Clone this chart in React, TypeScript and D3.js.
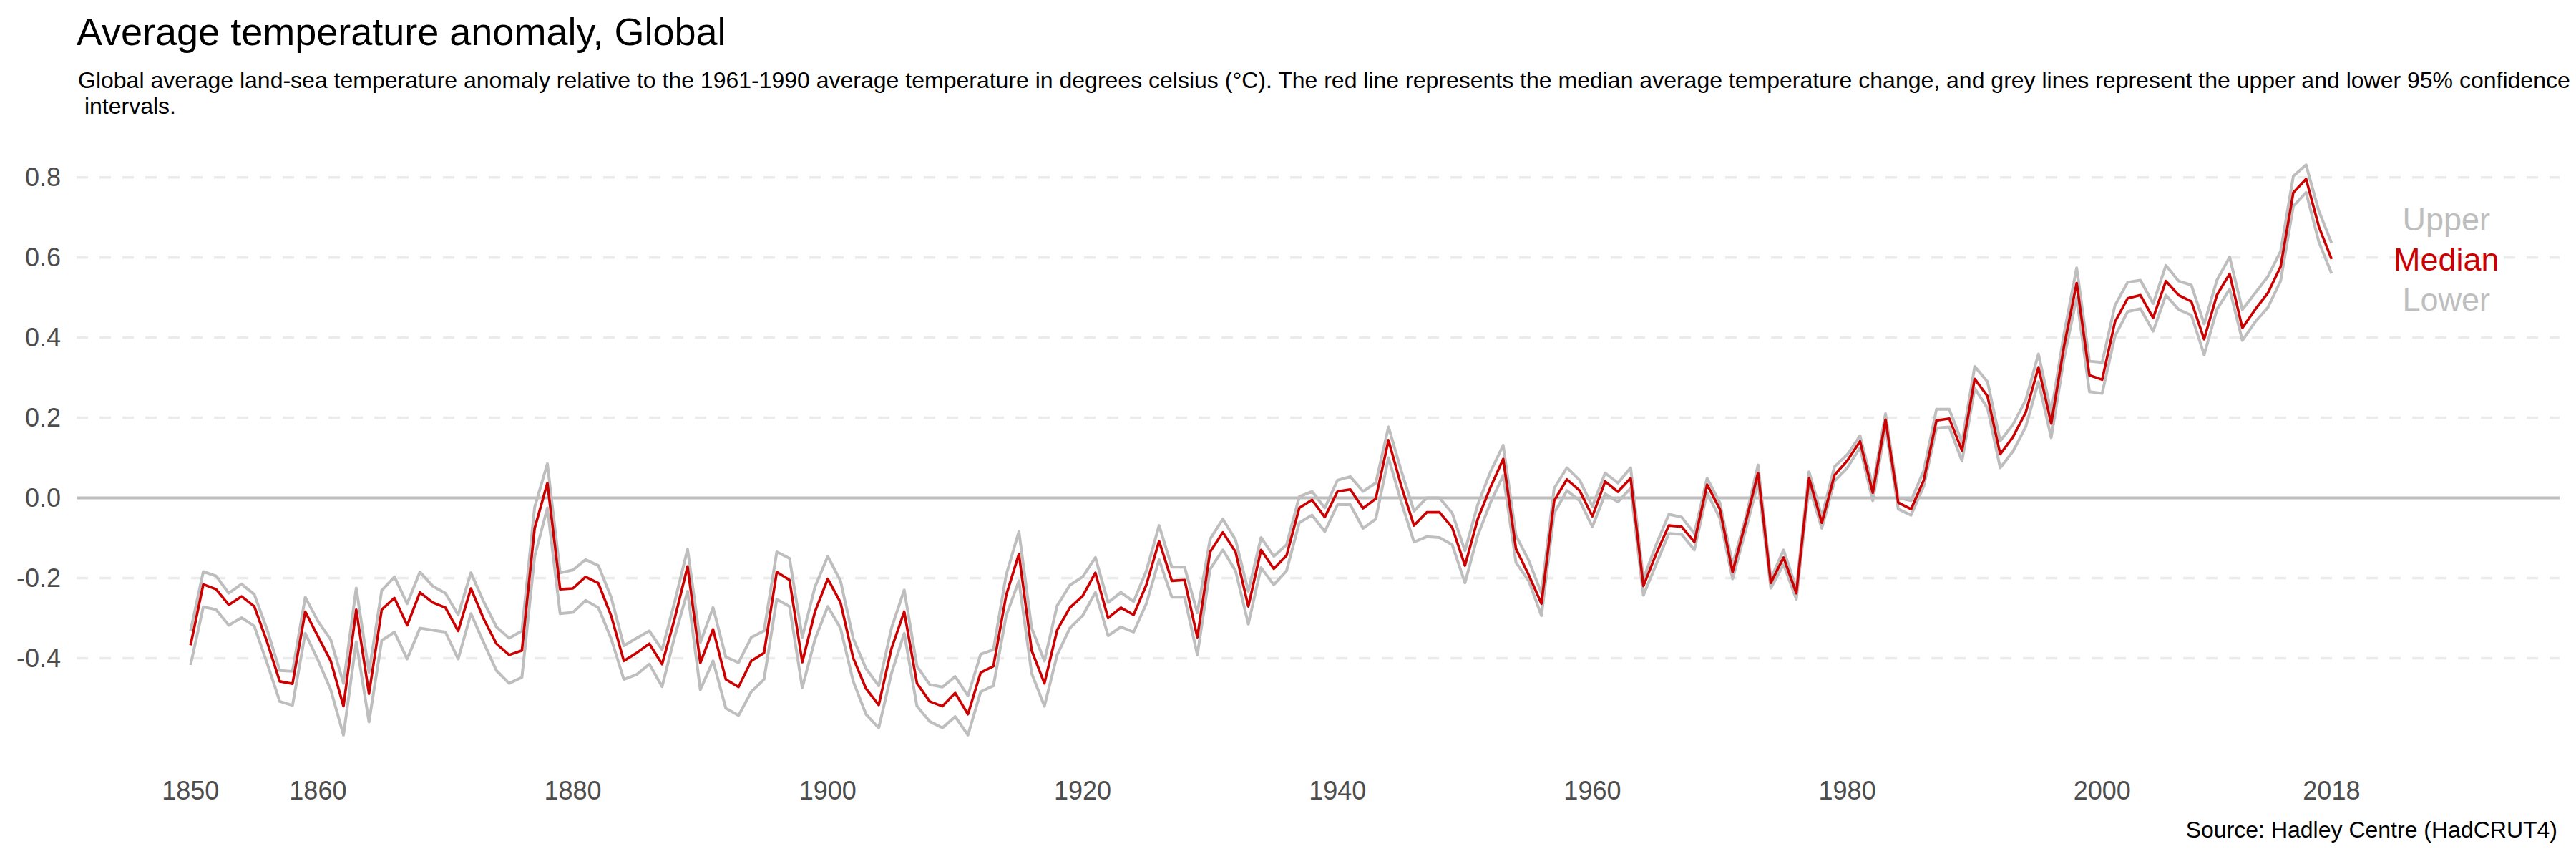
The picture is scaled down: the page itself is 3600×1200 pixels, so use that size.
import React from "react";
import * as d3 from "d3";

// ---- Data (HadCRUT4 global annual anomaly) ----
const startYear = 1850;
const endYear = 2018;

const median: number[] = [
  -0.368, -0.216, -0.228, -0.267, -0.246, -0.271, -0.359, -0.458, -0.464, -0.284,
  -0.346, -0.407, -0.520, -0.279, -0.489, -0.279, -0.250, -0.318, -0.236, -0.261,
  -0.274, -0.332, -0.226, -0.302, -0.364, -0.392, -0.381, -0.076, 0.037, -0.228,
  -0.226, -0.197, -0.213, -0.294, -0.407, -0.387, -0.364, -0.415, -0.300, -0.171,
  -0.412, -0.328, -0.453, -0.472, -0.407, -0.387, -0.185, -0.205, -0.410, -0.284,
  -0.202, -0.261, -0.400, -0.476, -0.517, -0.376, -0.284, -0.463, -0.508, -0.520,
  -0.487, -0.540, -0.436, -0.420, -0.243, -0.140, -0.381, -0.463, -0.330, -0.274,
  -0.245, -0.187, -0.300, -0.274, -0.292, -0.217, -0.108, -0.207, -0.205, -0.348,
  -0.135, -0.086, -0.135, -0.271, -0.130, -0.177, -0.144, -0.025, -0.005, -0.048,
  0.016, 0.021, -0.026, -0.002, 0.144, 0.030, -0.069, -0.036, -0.036, -0.074,
  -0.169, -0.053, 0.026, 0.097, -0.127, -0.192, -0.264, -0.007, 0.046, 0.018,
  -0.046, 0.041, 0.015, 0.049, -0.220, -0.140, -0.069, -0.072, -0.110, 0.033,
  -0.028, -0.185, -0.064, 0.062, -0.212, -0.149, -0.238, 0.049, -0.062, 0.057,
  0.093, 0.141, 0.013, 0.195, -0.012, -0.028, 0.044, 0.193, 0.198, 0.118,
  0.297, 0.254, 0.109, 0.152, 0.213, 0.326, 0.185, 0.377, 0.536, 0.306,
  0.295, 0.439, 0.498, 0.506, 0.449, 0.541, 0.506, 0.490, 0.396, 0.506,
  0.559, 0.424, 0.470, 0.511, 0.577, 0.762, 0.796, 0.677, 0.596,
];

const upper: number[] = [
  -0.332, -0.184, -0.195, -0.238, -0.215, -0.241, -0.328, -0.431, -0.433, -0.248,
  -0.308, -0.354, -0.463, -0.225, -0.436, -0.231, -0.197, -0.264, -0.185, -0.220,
  -0.238, -0.292, -0.187, -0.259, -0.322, -0.350, -0.332, -0.023, 0.085, -0.187,
  -0.180, -0.154, -0.169, -0.248, -0.369, -0.350, -0.332, -0.379, -0.258, -0.128,
  -0.361, -0.274, -0.397, -0.411, -0.348, -0.332, -0.135, -0.151, -0.348, -0.222,
  -0.146, -0.207, -0.351, -0.426, -0.469, -0.325, -0.230, -0.420, -0.466, -0.472,
  -0.446, -0.494, -0.390, -0.379, -0.192, -0.084, -0.325, -0.407, -0.269, -0.218,
  -0.197, -0.149, -0.261, -0.236, -0.259, -0.182, -0.069, -0.173, -0.173, -0.287,
  -0.103, -0.053, -0.105, -0.233, -0.099, -0.146, -0.117, 0.003, 0.016, -0.025,
  0.044, 0.053, 0.016, 0.037, 0.177, 0.068, -0.033, 0.000, 0.000, -0.038,
  -0.132, -0.017, 0.065, 0.131, -0.094, -0.156, -0.238, 0.024, 0.075, 0.044,
  -0.021, 0.062, 0.037, 0.075, -0.202, -0.117, -0.041, -0.048, -0.089, 0.049,
  -0.012, -0.166, -0.053, 0.082, -0.202, -0.130, -0.226, 0.065, -0.046, 0.078,
  0.108, 0.155, 0.029, 0.210, 0.000, -0.007, 0.068, 0.221, 0.221, 0.139,
  0.328, 0.290, 0.142, 0.183, 0.244, 0.359, 0.213, 0.408, 0.574, 0.341,
  0.338, 0.480, 0.538, 0.543, 0.485, 0.580, 0.541, 0.531, 0.434, 0.543,
  0.601, 0.470, 0.511, 0.552, 0.615, 0.803, 0.831, 0.716, 0.636,
];

const lower: number[] = [
  -0.417, -0.272, -0.279, -0.318, -0.299, -0.320, -0.412, -0.508, -0.518, -0.338,
  -0.405, -0.479, -0.592, -0.359, -0.559, -0.356, -0.335, -0.402, -0.325, -0.330,
  -0.335, -0.402, -0.289, -0.361, -0.431, -0.463, -0.448, -0.146, -0.025, -0.289,
  -0.286, -0.256, -0.274, -0.351, -0.453, -0.441, -0.415, -0.471, -0.345, -0.233,
  -0.479, -0.407, -0.525, -0.543, -0.484, -0.453, -0.253, -0.271, -0.474, -0.353,
  -0.271, -0.325, -0.458, -0.540, -0.574, -0.438, -0.338, -0.520, -0.558, -0.574,
  -0.546, -0.592, -0.484, -0.469, -0.294, -0.207, -0.438, -0.520, -0.392, -0.325,
  -0.294, -0.236, -0.344, -0.322, -0.335, -0.264, -0.154, -0.248, -0.248, -0.392,
  -0.178, -0.130, -0.182, -0.315, -0.174, -0.217, -0.182, -0.062, -0.043, -0.084,
  -0.017, -0.017, -0.076, -0.053, 0.100, -0.010, -0.110, -0.097, -0.099, -0.117,
  -0.212, -0.094, -0.012, 0.056, -0.161, -0.207, -0.294, -0.038, 0.018, -0.007,
  -0.072, 0.010, -0.010, 0.024, -0.243, -0.166, -0.089, -0.091, -0.130, 0.013,
  -0.051, -0.202, -0.084, 0.039, -0.225, -0.166, -0.253, 0.029, -0.076, 0.042,
  0.075, 0.125, -0.007, 0.177, -0.028, -0.043, 0.029, 0.174, 0.177, 0.092,
  0.273, 0.224, 0.075, 0.116, 0.177, 0.290, 0.150, 0.347, 0.500, 0.265,
  0.261, 0.403, 0.465, 0.472, 0.416, 0.506, 0.470, 0.456, 0.357, 0.470,
  0.521, 0.393, 0.439, 0.475, 0.541, 0.728, 0.762, 0.639, 0.560,
];

const yTicks: number[] = [-0.4, -0.2, 0.0, 0.2, 0.4, 0.6, 0.8];
const yTickLabels: string[] = ["-0.4", "-0.2", "0.0", "0.2", "0.4", "0.6", "0.8"];
const xTicks: number[] = [1850, 1860, 1880, 1900, 1920, 1940, 1960, 1980, 2000, 2018];

const legendLabels: string[] = ["Upper", "Median", "Lower"];
const legendValues: number[] = [0.7, 0.6, 0.5];
const legendYear = 2027;

const titleText = "Average temperature anomaly, Global";
const subtitleLine1 =
  "Global average land-sea temperature anomaly relative to the 1961-1990 average temperature in degrees celsius (°C). The red line represents the median average temperature change, and grey lines represent the upper and lower 95% confidence";
const subtitleLine2 = " intervals.";
const captionText = "Source: Hadley Centre (HadCRUT4)";

// ---- Styling ----
const W = 3600;
const H = 1200;
const FONT = "'Liberation Sans', Arial, Helvetica, sans-serif";
const RED = "#cc0000";
const GREY = "#bebebe";
const GRID = "#ebebeb";
const AXIS_TEXT = "#4d4d4d";

export default function App() {
  const years = d3.range(startYear, endYear + 1);
  const x = d3.scaleLinear().domain([1850, 2018]).range([266.3, 3258.4]);
  const y = d3.scaleLinear().domain([0, 0.8]).range([695.5, 247.7]);

  const panelLeft = 107;
  const panelRight = 3577;

  const line = d3
    .line<number>()
    .x((_, i) => x(years[i]))
    .y((d) => y(d));

  const legendColors = [GREY, RED, GREY];

  return (
    <svg
      width={W}
      height={H}
      viewBox={`0 0 ${W} ${H}`}
      style={{ position: "absolute", left: 0, top: 0, display: "block", background: "#fff" }}
      fontFamily={FONT}
    >
      <rect x={0} y={0} width={W} height={H} fill="#fff" />
      {/* Title & subtitle */}
      <text x={107} y={63} fontSize={54} fill="#000">
        {titleText}
      </text>
      <text x={109} y={123} fontSize={32} fill="#000">
        {subtitleLine1}
      </text>
      <text x={109} y={159} fontSize={32} fill="#000" style={{ whiteSpace: "pre" }}>
        {subtitleLine2}
      </text>

      {/* Gridlines */}
      {yTicks.map((t) =>
        t === 0 ? (
          <line
            key={t}
            x1={panelLeft}
            x2={panelRight}
            y1={y(t)}
            y2={y(t)}
            stroke={GREY}
            strokeWidth={4}
          />
        ) : (
          <line
            key={t}
            x1={panelLeft}
            x2={panelRight}
            y1={y(t)}
            y2={y(t)}
            stroke={GRID}
            strokeWidth={3.5}
            strokeDasharray="16 16"
          />
        )
      )}

      {/* Y axis labels */}
      {yTicks.map((t, i) => (
        <text
          key={"yl" + t}
          x={85}
          y={y(t) + 12.5}
          fontSize={36}
          fill={AXIS_TEXT}
          textAnchor="end"
        >
          {yTickLabels[i]}
        </text>
      ))}

      {/* X axis labels */}
      {xTicks.map((t) => (
        <text
          key={"xl" + t}
          x={x(t)}
          y={1117}
          fontSize={36}
          fill={AXIS_TEXT}
          textAnchor="middle"
        >
          {t}
        </text>
      ))}

      {/* Lines */}
      <path d={line(upper) || ""} fill="none" stroke={GREY} strokeWidth={4} strokeLinejoin="round" />
      <path d={line(lower) || ""} fill="none" stroke={GREY} strokeWidth={4} strokeLinejoin="round" />
      <path d={line(median) || ""} fill="none" stroke={RED} strokeWidth={3.6} strokeLinejoin="round" />

      {/* Legend labels */}
      {legendLabels.map((l, i) => (
        <text
          key={l}
          x={x(legendYear)}
          y={y(legendValues[i]) + 18}
          fontSize={45}
          fill={legendColors[i]}
          textAnchor="middle"
        >
          {l}
        </text>
      ))}

      {/* Caption */}
      <text x={3574} y={1170} fontSize={32} fill="#000" textAnchor="end">
        {captionText}
      </text>
    </svg>
  );
}
